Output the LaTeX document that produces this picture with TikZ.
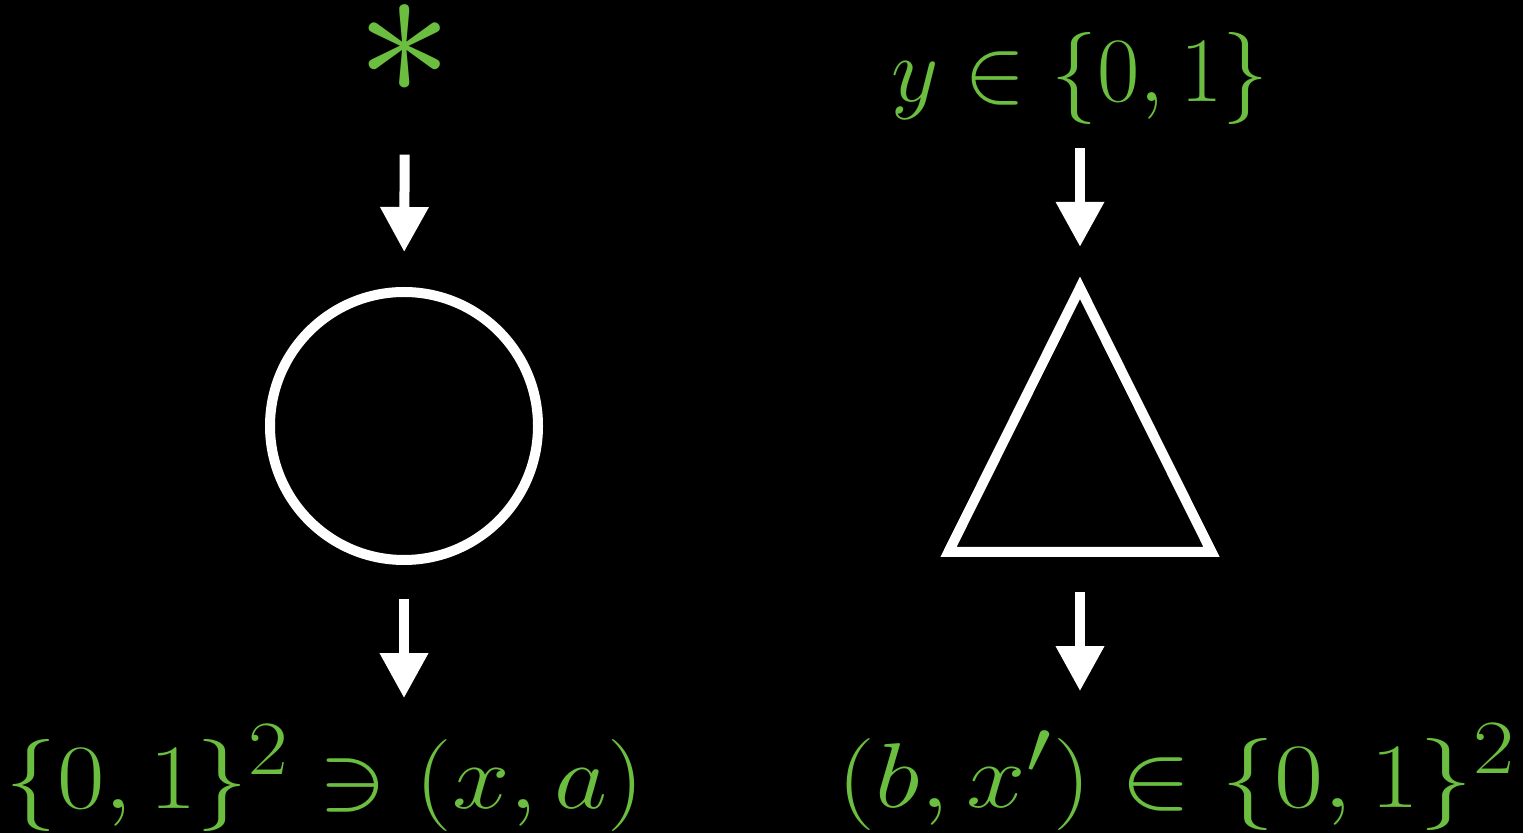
\documentclass[tikz,border=0pt]{standalone}
\usepackage{amsmath,amssymb}
\usetikzlibrary{arrows.meta,positioning,shapes.geometric}
\definecolor{chalk}{RGB}{107,190,63}
\tikzset{
  shp/.style={draw=white,line width=10pt,inner sep=0pt},
  ar/.style ={-{Triangle[length=45pt,width=46pt]},line width=10pt,draw=white,fill=white},
  lbl/.style={text=chalk,font=\Huge,scale=3.7,inner sep=0pt,outer sep=0pt},
}

\begin{document}
\begin{tikzpicture}[x=1pt,y=1pt]
  \fill[black] (0,0) rectangle (1523,833);
  \useasboundingbox (0,0) rectangle (1523,833);
  % the two boxes
  \node[shp,circle,minimum size=268pt] (enc) at (404,407) {};
  \node[shp,isosceles triangle,isosceles triangle stretches,shape border rotate=90,
        minimum width=263pt,minimum height=264pt] (dec) at (1080,362.5) {};
  % inputs and outputs
  \node[lbl,scale=2.1,text height=0.35em,text depth=0pt] (star) at (405,752) {$\ast$};
  \node[lbl,anchor=base] (yin) at (1080,731) {$y\in\{0,1\}$};
  \node[lbl,anchor=base,xscale=1.12] (xa) at (325,25)  {$\{0,1\}^2\ni(x,a)$};
  \node[lbl,anchor=base,xscale=1.16] (bx) at (1177,26) {$(b,x')\in\{0,1\}^2$};
  \draw[ar,shorten <=60pt,shorten >=35pt] (star.south) -- (enc.north);
  \draw[ar,shorten <=23pt,shorten >=28pt] (yin.south) -- (dec.apex);
  \draw[ar,shorten <=34pt,shorten >=27pt] (enc.south) -- (enc.south |- xa.north);
  \draw[ar,shorten <=35pt,shorten >=33pt] (dec.south) -- (dec.south |- bx.north);
\end{tikzpicture}
\end{document}
